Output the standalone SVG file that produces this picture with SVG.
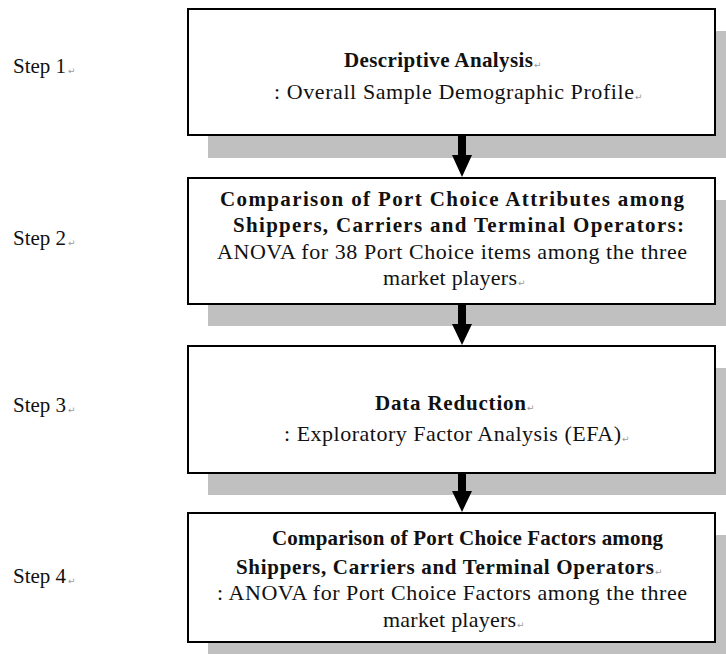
<svg xmlns="http://www.w3.org/2000/svg" width="726" height="654" viewBox="0 0 726 654">
  <style>
    .shadow { fill: #c0c0c0; }
    .box { fill: #ffffff; stroke: #000000; stroke-width: 2; }
    .b { font-family: "Liberation Serif", "Times New Roman", serif; font-size: 21px; font-weight: bold; fill: #111111; }
    .r { font-family: "Liberation Serif", "Times New Roman", serif; font-size: 22px; fill: #111111; }
    .step { font-family: "Liberation Serif", "Times New Roman", serif; font-size: 21px; fill: #111111; }
    .pm { font-family: "DejaVu Sans", sans-serif; font-size: 9px; fill: #9a9a9a; }
    .shaft { fill: #000000; }
  </style>
  <rect width="726" height="654" fill="#ffffff"/>

  <g id="labels">
    <text class="step" x="13" y="73">Step 1</text><text class="pm" x="68" y="74">↵</text>
    <text class="step" x="13" y="245">Step 2</text><text class="pm" x="68" y="246">↵</text>
    <text class="step" x="13" y="412">Step 3</text><text class="pm" x="68" y="413">↵</text>
    <text class="step" x="13" y="583">Step 4</text><text class="pm" x="68" y="584">↵</text>
  </g>

  <g id="step1">
    <rect class="shadow" x="208" y="31" width="530" height="127"/>
    <rect class="box" x="188" y="9" width="527" height="126"/>
    <text class="b" x="344" y="67" textLength="189" lengthAdjust="spacing">Descriptive  Analysis</text><text class="pm" x="534" y="68">↵</text>
    <text class="r" x="274" y="99" textLength="360" lengthAdjust="spacing">: Overall Sample Demographic Profile</text><text class="pm" x="635" y="100">↵</text>
  </g>

  <g id="step2">
    <rect class="shadow" x="208" y="200" width="530" height="126"/>
    <rect class="box" x="188" y="178" width="527" height="126"/>
    <text class="b" x="220" y="206" textLength="464" lengthAdjust="spacing">Comparison of Port Choice Attributes among</text>
    <text class="b" x="233" y="232" textLength="451" lengthAdjust="spacing">Shippers, Carriers  and Terminal  Operators:</text>
    <text class="r" x="217" y="259" textLength="470" lengthAdjust="spacing">ANOVA for 38 Port Choice items among the three</text>
    <text class="r" x="383" y="285" textLength="134" lengthAdjust="spacing">market players</text><text class="pm" x="518" y="286">↵</text>
  </g>

  <g id="step3">
    <rect class="shadow" x="208" y="368" width="530" height="127"/>
    <rect class="box" x="188" y="346" width="527" height="127"/>
    <text class="b" x="375" y="410" textLength="151" lengthAdjust="spacing">Data Reduction</text><text class="pm" x="527" y="411">↵</text>
    <text class="r" x="284" y="441" textLength="337" lengthAdjust="spacing">: Exploratory Factor Analysis (EFA)</text><text class="pm" x="622" y="442">↵</text>
  </g>

  <g id="step4">
    <rect class="shadow" x="208" y="535" width="530" height="129"/>
    <rect class="box" x="188" y="513" width="527" height="129"/>
    <text class="b" x="272" y="545" textLength="391" lengthAdjust="spacing">Comparison of Port Choice Factors among</text>
    <text class="b" x="236" y="574" textLength="418" lengthAdjust="spacing">Shippers, Carriers  and Terminal  Operators</text><text class="pm" x="655" y="575">↵</text>
    <text class="r" x="217" y="600" textLength="470" lengthAdjust="spacing">: ANOVA for Port Choice Factors among the three</text>
    <text class="r" x="383" y="627" textLength="133" lengthAdjust="spacing">market players</text><text class="pm" x="517" y="628">↵</text>
  </g>

  <g id="connectors">
    <rect class="shaft" x="458" y="136" width="8" height="20"/>
    <polygon class="shaft" points="452,155 472,155 462,177"/>
    <rect class="shaft" x="458" y="305" width="8" height="20"/>
    <polygon class="shaft" points="452,324 472,324 462,345"/>
    <rect class="shaft" x="458" y="474" width="8" height="18"/>
    <polygon class="shaft" points="452,491 472,491 462,512"/>
  </g>
</svg>
